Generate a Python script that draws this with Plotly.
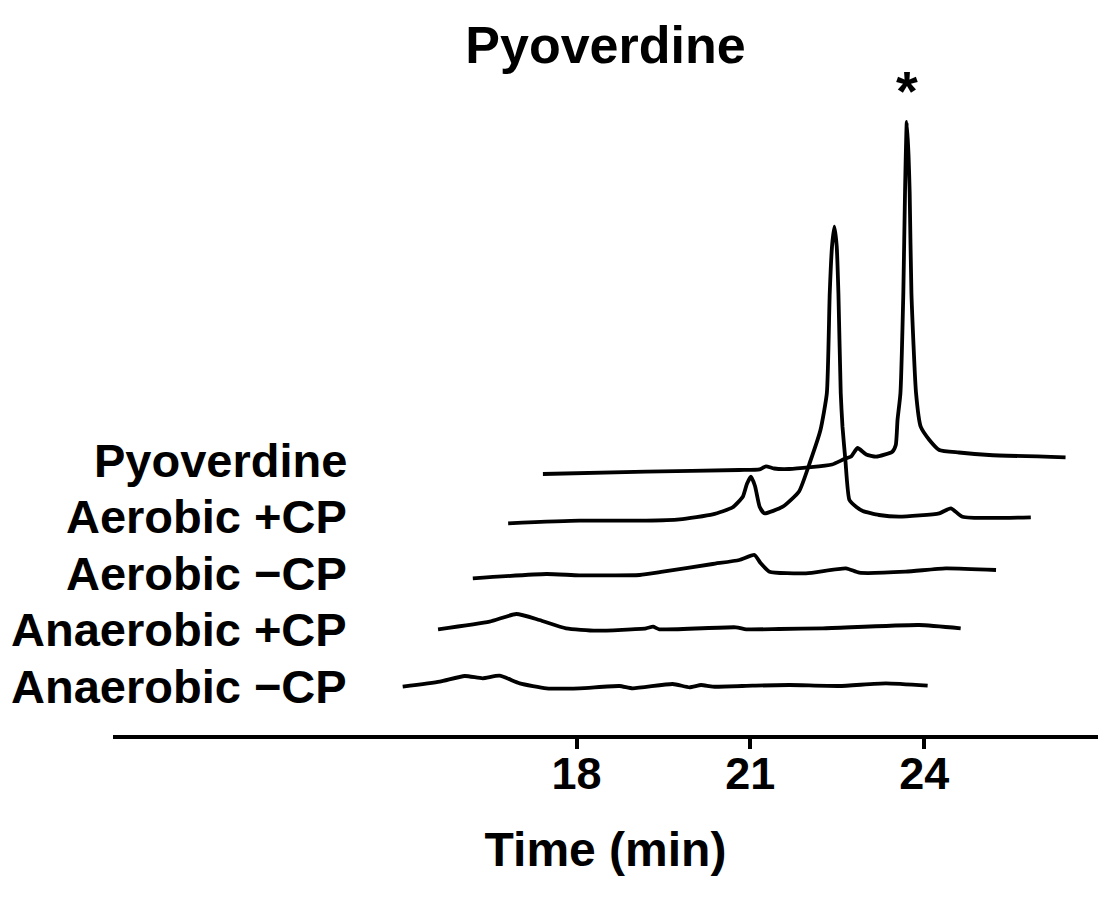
import plotly.graph_objects as go

# retention time (min) and absorbance (a.u.)
anaerobic_minus_time = [15.00, 15.64, 16.07, 16.38, 16.67, 17.02, 17.48, 18.05, 18.74, 18.97,
                        19.66, 19.95, 20.15, 20.35, 21.04, 21.67, 22.53, 23.34, 24.06]
anaerobic_minus_abs = [0.3, 5.3, 11.0, 8.7, 11.3, 3.7, -1.3, -1.3, 1.0, -1.3,
                       3.0, -0.3, 2.0, 0.3, 1.3, 2.0, 1.0, 3.7, 1.3]

anaerobic_plus_time = [15.01, 15.90, 16.36, 16.76, 17.22, 17.74, 18.60, 18.72, 18.83, 20.15,
                       20.33, 20.90, 21.65, 23.31, 24.03]
anaerobic_plus_abs = [4.7, 12.3, 20.0, 14.0, 5.7, 3.3, 5.7, 7.3, 4.7, 6.7,
                      4.7, 5.0, 5.7, 9.0, 5.7]

aerobic_minus_time = [15.01, 16.28, 16.85, 17.89, 18.29, 19.15, 19.61, 19.87, 19.98, 20.13,
                      20.76, 21.45, 21.68, 22.48, 23.17, 24.04]
aerobic_minus_abs = [2.7, 7.0, 5.7, 6.0, 9.3, 17.0, 21.0, 26.0, 17.7, 9.3,
                     7.7, 12.7, 8.3, 9.3, 12.7, 11.0]

aerobic_plus_time = [15.02, 16.25, 17.40, 17.98, 18.55, 18.89, 19.07, 19.14, 19.21, 19.28,
                     19.36, 19.44, 19.76, 20.04, 20.23, 20.41, 20.52, 20.57, 20.61, 20.65,
                     20.69, 20.72, 20.76, 20.79, 20.84, 20.91, 21.03, 21.14, 21.42, 21.77,
                     22.46, 22.66, 22.86, 24.04]
aerobic_plus_abs = [4.7, 7.3, 7.3, 8.7, 13.7, 20.5, 31.3, 44.0, 51.3, 42.0,
                    21.3, 14.7, 21.3, 36.5, 66.0, 98.0, 134.7, 234.7, 282.0, 301.3,
                    282.0, 234.7, 134.7, 101.3, 68.0, 28.0, 21.0, 17.0, 13.0, 11.3,
                    14.7, 19.7, 11.3, 10.7]

pyoverdine_time = [15.02, 16.80, 18.41, 18.76, 18.87, 19.01, 19.27, 20.01, 20.22, 20.34,
                   20.45, 20.60, 20.77, 21.05, 21.11, 21.14, 21.19, 21.24, 21.27, 21.30,
                   21.33, 21.35, 21.38, 21.46, 21.54, 21.69, 21.86, 22.20, 22.72, 24.04]
pyoverdine_abs = [1.0, 3.3, 5.0, 5.7, 8.7, 6.5, 6.0, 10.5, 16.0, 18.5,
                  27.0, 20.5, 18.3, 23.3, 30.0, 55.0, 81.7, 181.7, 285.0, 353.0,
                  320.0, 281.7, 181.7, 81.7, 48.3, 35.0, 25.0, 22.5, 20.0, 17.7]

# bottom to top, as stacked in the figure
series = [
    ("Anaerobic \u2212CP", anaerobic_minus_time, anaerobic_minus_abs),
    ("Anaerobic +CP", anaerobic_plus_time, anaerobic_plus_abs),
    ("Aerobic \u2212CP", aerobic_minus_time, aerobic_minus_abs),
    ("Aerobic +CP", aerobic_plus_time, aerobic_plus_abs),
    ("Pyoverdine", pyoverdine_time, pyoverdine_abs),
]
tick_vals = [18, 21, 24]

# stacking offsets for the waterfall look
x_step = 0.6
y_step = 53
y_base = 48

font_main = "Liberation Sans, Arial, sans-serif"

fig = go.Figure()

for i, (name, t, a) in enumerate(series):
    fig.add_trace(
        go.Scatter(
            x=[v + i * x_step for v in t],
            y=[v + y_base + i * y_step for v in a],
            mode="lines",
            line=dict(color="black", width=3.8, shape="spline", smoothing=0.5),
            name=name,
            showlegend=False,
        )
    )
    fig.add_annotation(
        text="<b>" + name + "</b>",
        xref="paper",
        x=0.2396,
        xanchor="right",
        yref="y",
        y=49 + 56.5 * i,
        yanchor="middle",
        showarrow=False,
        font=dict(family=font_main, size=47, color="black"),
    )

# asterisk over the pyoverdine peak
name, t, a = series[-1]
k = a.index(max(a))
fig.add_annotation(
    text="<b>*</b>",
    x=t[k] + 4 * x_step,
    y=a[k] + y_base + 4 * y_step,
    yshift=32,
    yanchor="middle",
    showarrow=False,
    font=dict(family=font_main, size=56, color="black"),
)

fig.update_layout(
    width=1120,
    height=900,
    margin=dict(l=105, r=30, t=52, b=173),
    paper_bgcolor="white",
    plot_bgcolor="white",
    title=dict(
        text="<b>Pyoverdine</b>",
        x=0.5,
        xref="paper",
        xanchor="center",
        y=0.959,
        yanchor="middle",
        font=dict(family=font_main, size=52, color="black"),
    ),
    xaxis=dict(
        range=[10, 27],
        showline=True,
        linecolor="black",
        linewidth=4,
        showgrid=False,
        zeroline=False,
        ticks="outside",
        ticklen=10,
        tickwidth=3.5,
        tickcolor="black",
        tickvals=tick_vals,
        ticktext=["<b>%d</b>" % v for v in tick_vals],
        tickfont=dict(family=font_main, size=45, color="black"),
        ticklabelstandoff=-14,
        title=dict(
            text="<b>Time (min)</b>",
            font=dict(family=font_main, size=48, color="black"),
            standoff=35,
        ),
    ),
    yaxis=dict(range=[0, 675], visible=False),
)

fig.write_html("out.html")
